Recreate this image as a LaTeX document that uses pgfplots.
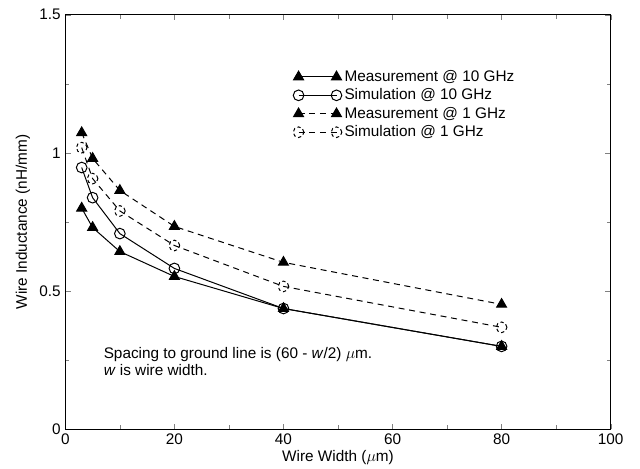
\documentclass[border=0pt]{standalone}
\usepackage{fontspec}
\setmainfont{Liberation Sans}
\usepackage{pgfplots}
\pgfplotsset{compat=1.18}

\begin{document}
\begin{tikzpicture}
\begin{axis}[
  scale only axis,
  width=409pt, height=311pt,
  xmin=0, xmax=100, ymin=0, ymax=1.5,
  xtick={0,20,...,100}, ytick={0,0.5,1,1.5},
  minor xtick={10,30,50,70,90}, minor ytick={0.25,0.75,1.25},
  tick align=inside, tick pos=both,
  major tick length=4pt, minor tick length=3pt,
  /pgf/number format/assume math mode=true,
  font=\fontsize{11.5}{13}\selectfont,
  xlabel={Wire Width ($\mu$m)}, ylabel={Wire Inductance (nH/mm)},
  xlabel style={yshift=3pt}, ylabel style={yshift=0pt},
  axis line style={line width=0.8pt},
  every axis plot/.append style={line width=0.75pt},
  legend style={draw=none, fill=none, at={(0.415,0.876)}, anchor=north west,
    font=\fontsize{11.5}{13}\selectfont, row sep=0pt, inner sep=1pt},
  legend cell align=left,
  legend image code/.code={
    \draw[mark repeat=2, mark phase=1, #1] plot coordinates {(0cm,0cm) (0.5cm,0cm) (1cm,0cm)};},
]
\addplot[black, solid, mark=triangle*, mark size=4.3pt, mark options={solid, fill=black}]
  coordinates {(3,0.80) (5,0.73) (10,0.643) (20,0.553) (40,0.437) (80,0.30)};
\addplot[black, solid, mark=o, mark size=4pt, mark options={solid}]
  coordinates {(3,0.947) (5,0.838) (10,0.708) (20,0.582) (40,0.437) (80,0.30)};
\addplot[black, dash pattern=on 4.5pt off 3.5pt, mark=triangle*, mark size=4.3pt, mark options={solid, fill=black}]
  coordinates {(3,1.073) (5,0.98) (10,0.864) (20,0.734) (40,0.604) (80,0.452)};
\addplot[black, dash pattern=on 4.5pt off 3.5pt, mark=o, mark size=4pt, mark options={dash pattern=on 2.5pt off 2pt}]
  coordinates {(3,1.019) (5,0.907) (10,0.79) (20,0.665) (40,0.517) (80,0.369)};
\legend{Measurement @ 10 GHz, Simulation @ 10 GHz, Measurement @ 1 GHz, Simulation @ 1 GHz}
\node[anchor=west, align=left, inner sep=0pt] at (axis cs:7,0.245)
  {Spacing to ground line is (60 - \textit{w}/2) $\mu$m.\\\textit{w} is wire width.};
\end{axis}
\path (current axis.east) ++(22pt,0) coordinate (r);
\path (current axis.west) ++(-49pt,0) coordinate (l);
\path (current axis.north) ++(0,11pt) coordinate (t);
\end{tikzpicture}
\end{document}
